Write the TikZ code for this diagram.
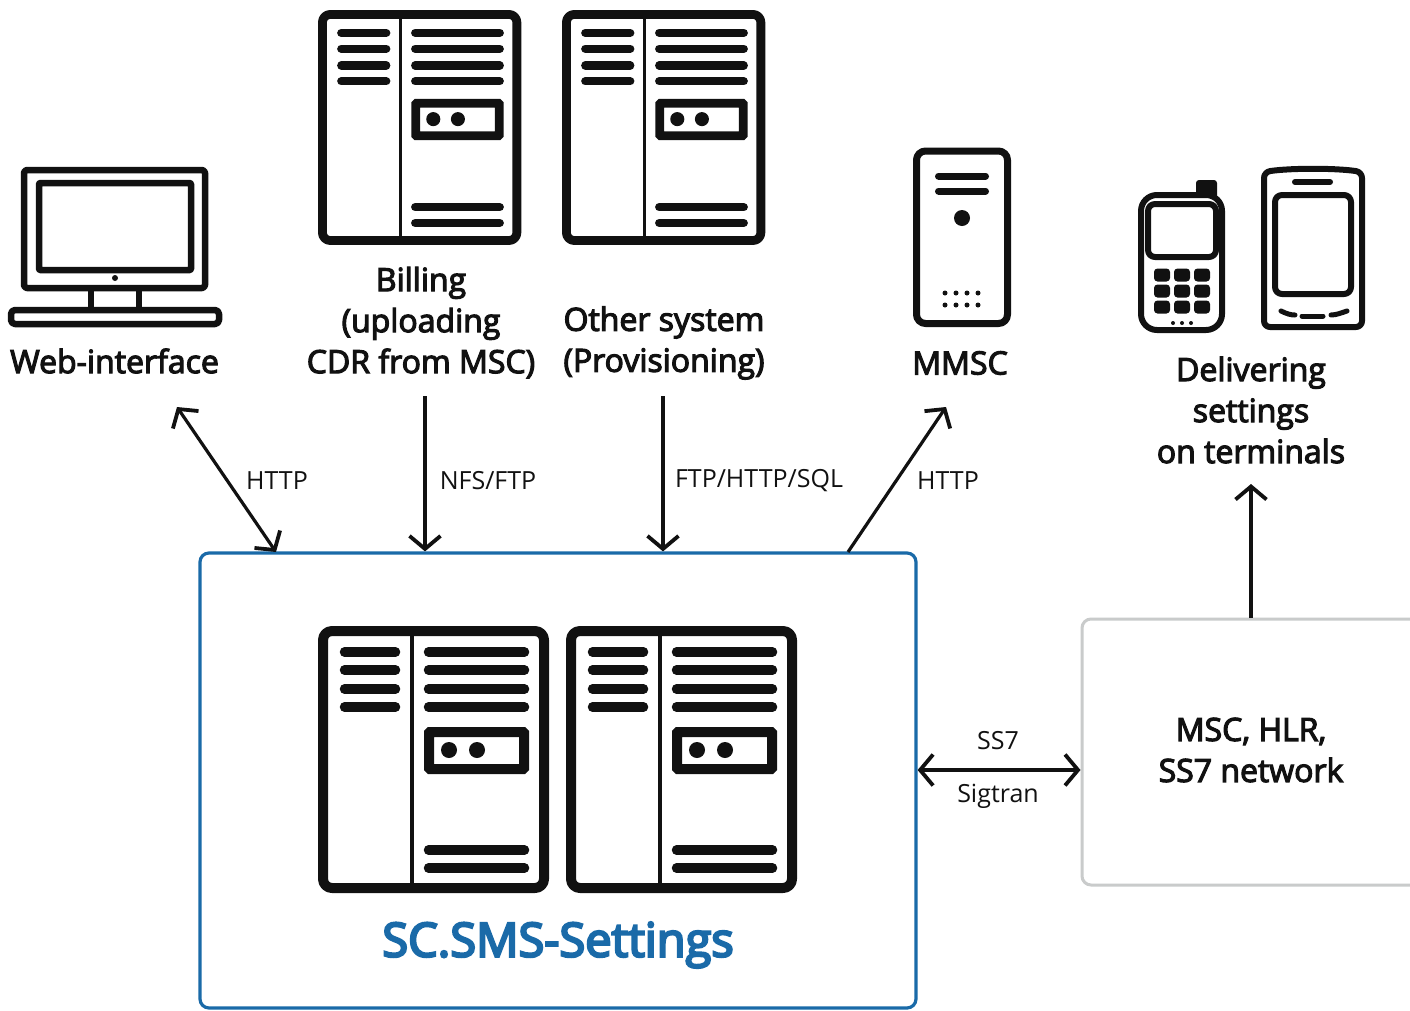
\documentclass[tikz,border=0pt]{standalone}
\usepackage{fontspec}
\setmainfont{Open Sans}
\newfontfamily\lab[FakeBold=3.5]{Open Sans}
\newfontfamily\ttl[FakeBold=5]{Open Sans}
\usetikzlibrary{arrows.meta}
\definecolor{ink}{HTML}{111111}
\definecolor{brand}{HTML}{1A6AA8}
\definecolor{edgegray}{HTML}{C9CBCB}
\tikzset{
 x=1pt,y=-1pt,
 conn/.style={draw=ink,line width=3.2pt,{Straight Barb[length=13pt,width=31pt,line width=3.8pt]}-{Straight Barb[length=13pt,width=31pt,line width=3.8pt]}},
 to only/.style={draw=ink,line width=3.2pt,-{Straight Barb[length=13pt,width=31pt,line width=3.8pt]}},
 biglabel/.style={align=center,inner sep=0pt,text=ink,font=\lab\fontsize{32}{41}\selectfont},
 smalllabel/.style={inner sep=0pt,text=ink,font=\fontsize{25}{30}\selectfont},
 bar/.style={line cap=round},
 ic/.style={draw=ink,fill=white,line join=round},
}
\newcommand{\srvdraw}[3]{%
 \begin{scope}[shift={(#1,#2)},scale=#3]
  \pgfmathsetmacro{\sc}{#3}
  \draw[ic,line width=\sc*10pt,rounded corners=\sc*9pt] (5,5) rectangle (226,262);
  \draw[draw=ink,line width=\sc*4pt] (94,5) -- (94,262);
  \foreach \yy in {26,44,63,81}{
   \draw[bar,draw=ink,line width=\sc*9.5pt] (26.5,\yy) -- (77.5,\yy);
   \draw[bar,draw=ink,line width=\sc*9.5pt] (110.5,\yy) -- (206.5,\yy);}
  \foreach \yy in {224,242}{\draw[bar,draw=ink,line width=\sc*9.5pt] (110.5,\yy) -- (206.5,\yy);}
  \draw[draw=ink,line width=\sc*10pt,rounded corners=\sc*1pt] (111,106) rectangle (206,143);
  \fill[ink] (131,124) circle[radius=8] (159,124) circle[radius=8];
 \end{scope}}
\begin{document}
\begin{tikzpicture}
\useasboundingbox (0,0) rectangle (1410,1010);
\clip (0,0) rectangle (1410,1010);
\fill[white] (0,0) rectangle (1410,1010);
% boxes
\node[draw=brand,line width=3.2pt,rounded corners=9pt,minimum width=716pt,minimum height=455pt,inner sep=0pt] (core) at (558,780.5) {};
\node[draw=edgegray,line width=3pt,rounded corners=9pt,minimum width=350pt,minimum height=266pt,inner sep=0pt] (net) at (1257,752) {};
% servers
\srvdraw{318}{10}{0.88}
\srvdraw{562}{10}{0.88}
\srvdraw{318}{626}{1}
\srvdraw{566}{626}{1}
% monitor
\draw[ic,line width=6.5pt,rounded corners=3pt] (24,170) rectangle (205,288);
\draw[ic,line width=6.5pt,rounded corners=1pt] (39,183) rectangle (191,270);
\fill[ink] (115,278) circle[radius=3];
\draw[draw=ink,line width=6.5pt] (91,290) -- (91,308) (139,290) -- (139,308);
\draw[ic,line width=6.5pt,rounded corners=4pt] (11,310) rectangle (219,324);
% MMSC
\draw[ic,line width=7pt,rounded corners=9pt] (916.5,151) rectangle (1007.5,323.5);
\draw[bar,draw=ink,line width=7pt] (938.5,176) -- (985.5,176) (938.5,191) -- (985.5,191);
\fill[ink] (962,218) circle[radius=8];
\foreach \xx in {945,956,967,978}{\fill[ink] (\xx,293) circle[radius=2.5] (\xx,305) circle[radius=2.5];}
% phone
\fill[ink,rounded corners=3pt] (1196,180) rectangle (1217,198);
\draw[ic,line width=6pt,rounded corners=16pt] (1141,195) rectangle (1222,330);
\draw[ic,line width=6pt,rounded corners=7pt] (1148,204) rectangle (1216,257);
\foreach \xx in {1162,1182,1202}{\foreach \yy in {275,291,307}{
 \fill[ink,rounded corners=3.5pt] (\xx-8,\yy-6.5) rectangle (\xx+8,\yy+6.5);}}
\foreach \xx in {1173,1182,1191}{\fill[ink] (\xx,323) circle[radius=2];}
% tablet
\draw[ic,line width=6pt,rounded corners=6pt] (1264,172) .. controls (1290,168) and (1336,168) .. (1362,172) -- (1362,327) -- (1264,327) -- cycle;
\draw[bar,draw=ink,line width=6pt] (1295,182) -- (1330,182);
\draw[ic,line width=6pt,rounded corners=7pt] (1275,195) rectangle (1351,294);
\draw[bar,draw=ink,line width=5pt] (1281,311) .. controls (1287,314) and (1291,315) .. (1295,315);
\draw[bar,draw=ink,line width=5pt] (1302,316) -- (1323,316);
\draw[bar,draw=ink,line width=5pt] (1331,315) .. controls (1336,315) and (1341,313) .. (1347,311);
% labels
\node[biglabel] (web) at (114.5,361) {Web-interface};
\node[biglabel] (bill) at (421,322.5) {Billing\\(uploading\\CDR from MSC)};
\node[biglabel] (other) at (664,343) {Other system\\(Provisioning)};
\node[biglabel] (mmsc) at (960,363) {MMSC};
\node[biglabel] (deliver) at (1251,410) {Delivering\\settings\\on terminals};
\node[biglabel] (netlabel) at (1251,750) {MSC, HLR,\\SS7 network};
\node[inner sep=0pt,text=brand,font=\ttl\fontsize{47}{56}\selectfont] (title) at (558,945) {SC.SMS-Settings};
\node[smalllabel] (l1) at (277,481) {HTTP};
\node[smalllabel] (l2) at (488,481) {NFS/FTP};
\node[smalllabel] (l3) at (759,481) {FTP/HTTP/SQL};
\node[smalllabel] (l4) at (948,481) {HTTP};
\node[smalllabel] (l5) at (998,741) {SS7};
\node[smalllabel] (l6) at (998,796) {Sigtran};
% connector ends
\coordinate (webEnd) at (177,407);
\coordinate (coreWeb) at (276,552);
\coordinate (billEnd) at (425,396);
\coordinate (otherEnd) at (663,396);
\coordinate (mmscEnd) at (946,407);
\coordinate (coreMmsc) at (848,552);
\coordinate (deliverEnd) at (1251,484);
\draw[conn] (webEnd) -- (coreWeb);
\draw[to only] (billEnd) -- (billEnd |- core.north);
\draw[to only] (otherEnd) -- (otherEnd |- core.north);
\draw[to only] (coreMmsc) -- (mmscEnd);
\draw[to only] (net.north -| deliverEnd) -- (deliverEnd);
\coordinate (ssL) at (core.east |- 0,770);
\coordinate (ssR) at (net.west |- 0,770);
\draw[conn] (ssL) -- (ssR);
\end{tikzpicture}
\end{document}
